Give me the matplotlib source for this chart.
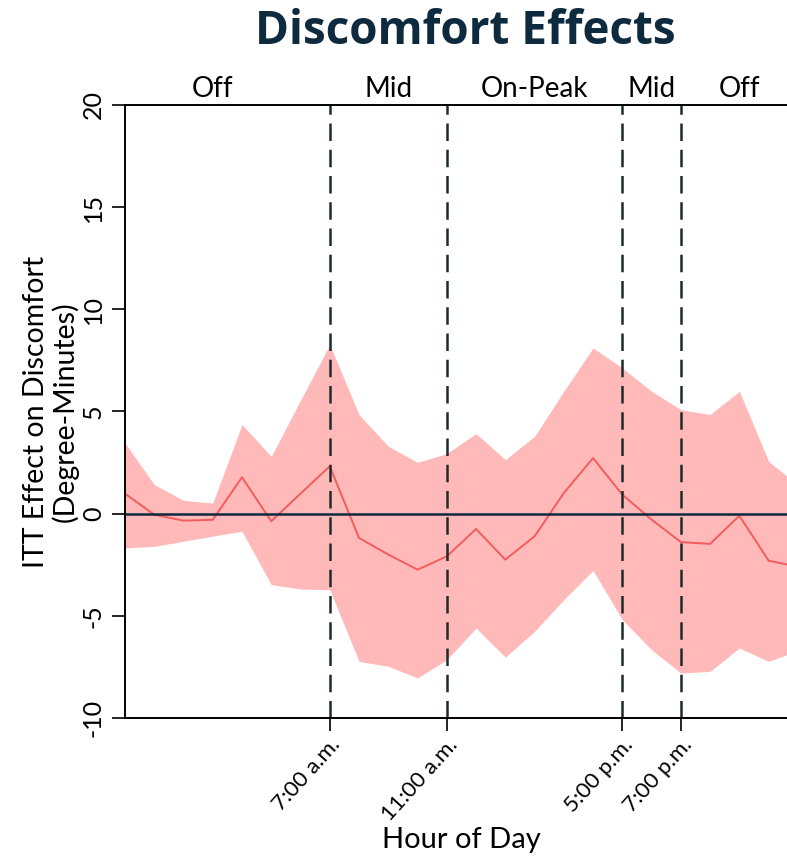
import matplotlib
matplotlib.use("Agg")
import matplotlib.pyplot as plt

# ================= DATA =================
hours = list(range(24))
effect = [0.98, -0.05, -0.34, -0.30, 1.78, -0.37, 0.98, 2.32,
          -1.19, -2.00, -2.74, -2.09, -0.75, -2.25, -1.11, 1.01,
          2.72, 0.93, -0.29, -1.39, -1.48, -0.10, -2.30, -2.60]
upper = [3.46, 1.42, 0.65, 0.52, 4.36, 2.80, 5.55, 8.27,
         4.85, 3.30, 2.51, 2.94, 3.92, 2.64, 3.78, 5.99,
         8.11, 7.13, 5.99, 5.09, 4.85, 5.99, 2.56, 1.40]
lower = [-1.68, -1.60, -1.35, -1.10, -0.86, -3.47, -3.69, -3.72,
         -7.23, -7.47, -8.04, -7.15, -5.60, -7.02, -5.76, -4.21,
         -2.78, -5.19, -6.66, -7.80, -7.72, -6.57, -7.23, -6.70]

boundaries = [7, 11, 17, 19]
boundary_labels = ["7:00 a.m.", "11:00 a.m.", "5:00 p.m.", "7:00 p.m."]
period_pos = [3, 9, 14, 18, 21]
period_labels = ["Off", "Mid", "On-Peak", "Mid", "Off"]
y_ticks = [-10, -5, 0, 5, 10, 15, 20]
# =========================================

NAVY = "#0e2a3f"
BAND = "#ffb9b9"
LINE = "#f25c5c"

fig = plt.figure(figsize=(7.87, 8.57), dpi=100)
ax = fig.add_axes([0.1588, 0.1622, 0.855, 0.7153])

ax.fill_between(hours, lower, upper, color=BAND, linewidth=0)
ax.plot(hours, effect, color=LINE, linewidth=1.4)
ax.axhline(0, color=NAVY, linewidth=1.8)

for b in boundaries:
    ax.axvline(b, color="#1c2b2b", linewidth=1.8, linestyle=(0, (7, 3.5)))

ax.set_xlim(0, 23)
ax.set_ylim(-10, 20)

ax.spines["right"].set_visible(False)
ax.spines["top"].set_linewidth(1.4)
ax.spines["left"].set_linewidth(1.4)
ax.spines["bottom"].set_linewidth(1.4)

ax.set_yticks(y_ticks)
ax.set_yticklabels([str(v) for v in y_ticks], rotation=90, va="center",
                   fontsize=18, family="Lato")
ax.tick_params(axis="y", length=9.5, width=1.2, pad=5)

ax.set_xticks(boundaries)
ax.set_xticklabels(boundary_labels, rotation=48, ha="right",
                   rotation_mode="anchor", fontsize=16, family="Lato")
ax.tick_params(axis="x", length=9, width=1.2, pad=3)

# rate period names along the top
top = ax.secondary_xaxis("top")
top.set_xticks(period_pos)
top.set_xticklabels(period_labels, fontsize=20, family="Lato")
top.tick_params(length=0, pad=2)
top.spines["top"].set_visible(False)

ax.set_xlabel("Hour of Day", fontsize=21, family="Lato")
ax.xaxis.set_label_coords(0.5, -0.178)
ax.set_ylabel("ITT Effect on Discomfort\n(Degree-Minutes)", fontsize=20.5,
              family="Lato", linespacing=1.1, labelpad=2)

fig.text(0.591, 0.963, "Discomfort Effects", ha="center", va="center",
         fontsize=33, fontweight="bold", family="Open Sans", color=NAVY)

fig.savefig("out.png", dpi=100)
